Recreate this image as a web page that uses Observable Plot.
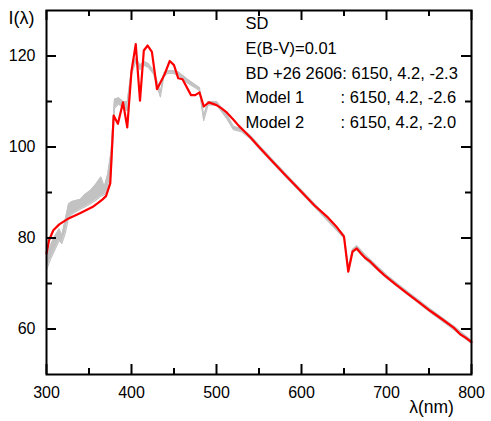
<!DOCTYPE html>
<html>
<head>
<meta charset="utf-8">
<script src="https://cdn.jsdelivr.net/npm/d3@7"></script>
<script src="https://cdn.jsdelivr.net/npm/@observablehq/plot@0.6"></script>
<style>
  html, body { margin: 0; padding: 0; background: #fff; }
  svg { display: block; }
</style>
</head>
<body>
<div id="chart"></div>
<script>
// Model spectrum (red)
const modelWl = [300, 303, 308, 315, 326, 340, 354, 360, 366, 370, 375, 379, 384, 390, 395, 400, 405, 410, 414.5, 419, 424, 430, 439, 445, 450, 455, 460, 470, 475, 480, 485, 491, 500, 506, 512, 520, 526, 533, 540, 550, 565, 580, 597, 615, 630, 642, 650, 655, 660, 665, 670, 675, 681, 690, 697, 710, 724, 738, 752, 765, 779, 787, 793, 800];
const modelI  = [76.6, 79.5, 81.7, 83.0, 84.3, 85.5, 86.8, 87.6, 88.5, 89.2, 92.0, 106.9, 105.1, 109.8, 104.3, 116.7, 122.6, 110.2, 121.2, 122.3, 120.9, 112.7, 116.0, 118.9, 118.0, 115.1, 114.9, 111.4, 111.4, 112.0, 108.9, 109.8, 109.2, 108.5, 107.6, 106.0, 104.7, 103.4, 102.1, 100.0, 97.0, 94.0, 90.7, 87.2, 84.7, 82.3, 80.3, 72.6, 77.0, 77.7, 76.6, 75.6, 74.8, 73.1, 71.9, 69.9, 67.9, 65.9, 63.9, 62.2, 60.3, 58.8, 58.1, 57.1];

// Observed spectra (grey band: lower and upper envelope)
const obsWl = [300, 305, 310, 315, 318, 322, 326, 330, 340, 345, 352, 358, 364, 368, 372, 376, 380, 385, 390, 395, 400, 405, 410, 415, 420, 426, 430, 434, 438, 442, 448, 455, 465, 475, 480, 485, 490, 500, 512, 520, 530, 540, 550, 580, 615, 650, 655, 660, 665, 675, 700, 725, 750, 780, 800];
const obsLo = [73.0, 75.5, 77.5, 79.5, 78.8, 81.0, 84.5, 85.3, 86.4, 86.8, 87.6, 88.3, 89.2, 89.5, 90.5, 94.0, 108.5, 109.5, 108.5, 108.0, 116.0, 118.8, 117.0, 118.0, 117.5, 116.0, 113.5, 111.0, 115.5, 116.2, 116.2, 115.8, 114.2, 113.0, 112.4, 105.8, 109.2, 109.3, 106.3, 103.8, 103.3, 101.8, 99.7, 93.7, 86.9, 80.0, 72.8, 76.8, 77.4, 75.4, 71.2, 67.5, 63.9, 59.7, 56.8];
const obsHi = [76.0, 78.5, 80.5, 82.0, 80.5, 84.0, 87.5, 88.0, 88.5, 89.5, 90.5, 91.8, 93.4, 91.2, 94.0, 99.0, 110.5, 110.8, 110.0, 110.0, 117.0, 119.5, 118.0, 118.8, 118.3, 116.8, 114.5, 112.0, 116.2, 116.8, 116.8, 116.5, 115.0, 113.7, 113.0, 106.8, 110.0, 110.0, 107.2, 104.5, 104.0, 102.5, 100.4, 94.4, 87.6, 80.7, 73.6, 77.5, 78.3, 76.3, 71.9, 68.2, 64.6, 60.5, 57.5];

// Ticks
const xMajor = [300, 400, 500, 600, 700, 800];
const xMinor = [350, 450, 550, 650, 750];
const yMajor = [60, 80, 100, 120];
const yMinor = [70, 90, 110];

// Annotation text
const labelLines = ["SD", "E(B-V)=0.01", "BD +26 2606: 6150, 4.2, -2.3", "Model 1", "Model 2"];
const valueLines = ["", "", "", ": 6150, 4.2, -2.6", ": 6150, 4.2, -2.0"];
const xTitle = "λ(nm)";
const yTitle = "I(λ)";

const model = modelWl.map((w, i) => ({w, v: modelI[i]}));
const obs = obsWl.map((w, i) => ({w, lo: obsLo[i], hi: obsHi[i]}));

const W = 491, H = 421;
const mL = 46, mR = 20, mT = 10, mB = 47;
const fw = W - mL - mR, fh = H - mT - mB;
const major = 10, minor = 6;
const font = "'Liberation Sans', Arial, Helvetica, sans-serif";
const grey = "#c2c2c2";

const chart = Plot.plot({
  width: W, height: H,
  marginLeft: mL, marginRight: mR, marginTop: mT, marginBottom: mB,
  style: {fontFamily: font, fontSize: "16px", color: "#000", background: "#fff"},
  x: {domain: [300, 800], axis: null},
  y: {domain: [50, 130], axis: null},
  marks: [
    // observed band
    Plot.areaY(obs, {x: "w", y1: "lo", y2: "hi", fill: grey}),
    Plot.lineY(obs, {x: "w", y: "lo", stroke: grey, strokeWidth: 1.2}),
    Plot.lineY(obs, {x: "w", y: "hi", stroke: grey, strokeWidth: 1.2}),
    // model
    Plot.lineY(model, {x: "w", y: "v", stroke: "#ff0000", strokeWidth: 2.2}),
    // frame
    Plot.frame({stroke: "#000", strokeWidth: 2}),
    // inward ticks bottom/top
    Plot.tickX(xMajor, {x: d => d, insetTop: fh - major, stroke: "#000", strokeWidth: 2}),
    Plot.tickX(xMinor, {x: d => d, insetTop: fh - minor, stroke: "#000", strokeWidth: 2}),
    Plot.tickX(xMajor, {x: d => d, insetBottom: fh - major, stroke: "#000", strokeWidth: 2}),
    Plot.tickX(xMinor, {x: d => d, insetBottom: fh - minor, stroke: "#000", strokeWidth: 2}),
    // inward ticks left/right
    Plot.tickY(yMajor, {y: d => d, insetRight: fw - major, stroke: "#000", strokeWidth: 2}),
    Plot.tickY(yMinor, {y: d => d, insetRight: fw - minor, stroke: "#000", strokeWidth: 2}),
    Plot.tickY(yMajor, {y: d => d, insetLeft: fw - major, stroke: "#000", strokeWidth: 2}),
    Plot.tickY(yMinor, {y: d => d, insetLeft: fw - minor, stroke: "#000", strokeWidth: 2}),
    // tick labels
    Plot.axisX(xMajor, {anchor: "bottom", tickSize: 0, tickPadding: 12, fontSize: 16, label: null}),
    Plot.axisY(yMajor, {anchor: "left", tickSize: 0, tickPadding: 11, fontSize: 16, label: null}),
    // axis titles
    Plot.text([xTitle], {text: d => d, frameAnchor: "bottom-right", dx: -40, dy: 33, textAnchor: "middle", lineAnchor: "middle", fontSize: 17.5, fill: "#000"}),
    Plot.text([yTitle], {text: d => d, frameAnchor: "top-left", dx: -25, dy: 8, textAnchor: "middle", lineAnchor: "middle", fontSize: 18, fill: "#000"}),
    // annotations
    Plot.text([labelLines.join("\n")], {text: d => d, frameAnchor: "top-left", dx: 199, dy: 1, textAnchor: "start", lineAnchor: "top", lineHeight: 1.5, fontSize: 16.5, fill: "#000"}),
    Plot.text([valueLines.join("\n")], {text: d => d, frameAnchor: "top-left", dx: 294, dy: 1, textAnchor: "start", lineAnchor: "top", lineHeight: 1.5, fontSize: 16.5, fill: "#000"})
  ]
});
document.getElementById("chart").appendChild(chart);
</script>
</body>
</html>
